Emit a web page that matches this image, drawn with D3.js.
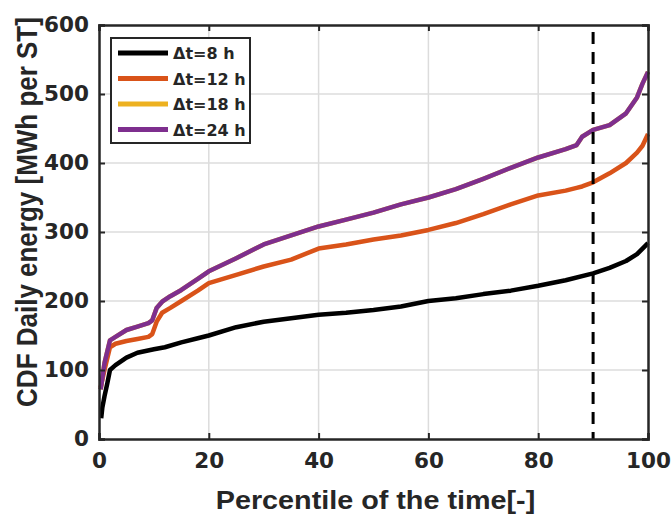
<!DOCTYPE html>
<html>
<head>
<meta charset="utf-8">
<script src="https://cdn.jsdelivr.net/npm/d3@7"></script>
<style>
  body { margin: 0; background: #fff; }
  svg { font-family: "DejaVu Sans", sans-serif; font-weight: bold; }
</style>
</head>
<body>
<div id="chart"></div>
<script>
// percentiles where the curves were read
const pct8 = [0.4, 0.6, 1, 1.5, 2, 3, 5, 7, 10, 12, 15, 18, 20, 25, 30, 35, 40, 45, 50, 55, 60, 65, 70, 75, 80, 85, 90, 93, 96, 98, 100];
const dt8 = [30, 45, 62, 80, 100, 107, 118, 125, 130, 133, 140, 146, 150, 162, 170, 175, 180, 183, 187, 192, 200, 204, 210, 215, 222, 230, 240, 248, 258, 268, 284];

const pctB = [0.3, 1, 2, 3, 5, 7, 9, 9.7, 10.5, 11.5, 13, 15, 18, 20, 25, 30, 35, 40, 45, 50, 55, 60, 65, 70, 75, 80, 85, 87, 88, 90, 93, 96, 98, 99, 100];
const dt12 = [75, 100, 133, 138, 142, 145, 148, 152, 170, 183, 190, 200, 215, 226, 238, 250, 260, 276, 282, 289, 295, 303, 313, 326, 340, 353, 360, 364, 366, 372, 385, 400, 415, 425, 442];
const dt24 = [72, 110, 143, 148, 158, 163, 168, 172, 190, 199, 207, 216, 232, 243, 262, 282, 295, 308, 318, 328, 340, 350, 362, 377, 393, 408, 420, 426, 438, 448, 455, 472, 495, 515, 532];
const dt18 = dt24; // hidden under the 24 h curve

const series = [
  { name: "\u0394t=8 h", color: "#000000", x: pct8, y: dt8 },
  { name: "\u0394t=12 h", color: "#D95319", x: pctB, y: dt12 },
  { name: "\u0394t=18 h", color: "#EDB120", x: pctB, y: dt18 },
  { name: "\u0394t=24 h", color: "#7E2F8E", x: pctB, y: dt24 }
];
const xTicks = [0, 20, 40, 60, 80, 100];
const yTicks = [0, 100, 200, 300, 400, 500, 600];
const marker = 90;

const width = 672, height = 517;
const margin = { top: 25, right: 24, bottom: 78, left: 99 };
const iw = width - margin.left - margin.right;
const ih = height - margin.top - margin.bottom;

const svg = d3.select("#chart").append("svg")
  .attr("width", width)
  .attr("height", height);

const g = svg.append("g").attr("transform", `translate(${margin.left},${margin.top})`);

const x = d3.scaleLinear().domain([0, 100]).range([0, iw]);
const y = d3.scaleLinear().domain([0, 600]).range([ih, 0]);

// grid
g.append("g").selectAll("line").data(xTicks.slice(1, -1)).join("line")
  .attr("x1", d => x(d)).attr("x2", d => x(d))
  .attr("y1", 0).attr("y2", ih)
  .attr("stroke", "#dcdcdc").attr("stroke-width", 1.5);
g.append("g").selectAll("line").data(yTicks.slice(1, -1)).join("line")
  .attr("y1", d => y(d)).attr("y2", d => y(d))
  .attr("x1", 0).attr("x2", iw)
  .attr("stroke", "#dcdcdc").attr("stroke-width", 1.5);

// curves, 18 h drawn first so 24 h covers it
const line = d3.line().x(d => x(d[0])).y(d => y(d[1]));
const order = [2, 1, 0, 3];
order.forEach(i => {
  const s = series[i];
  g.append("path")
    .datum(s.x.map((v, k) => [v, s.y[k]]))
    .attr("fill", "none")
    .attr("stroke", s.color)
    .attr("stroke-width", 4.5)
    .attr("stroke-linejoin", "round")
    .attr("d", line);
});

// dashed marker at 90th percentile
g.append("line")
  .attr("x1", x(marker)).attr("x2", x(marker))
  .attr("y1", y(590)).attr("y2", ih)
  .attr("stroke", "#000").attr("stroke-width", 3)
  .attr("stroke-dasharray", "12,8");

// axes
const axisColor = "#262626";
const xAxis = g.append("g").attr("transform", `translate(0,${ih})`)
  .call(d3.axisBottom(x).tickValues(xTicks).tickSize(-6).tickPadding(14));
const yAxis = g.append("g")
  .call(d3.axisLeft(y).tickValues(yTicks).tickSize(-6).tickPadding(10));
const xTop = g.append("g")
  .call(d3.axisTop(x).tickValues(xTicks).tickSize(-6).tickFormat(""));
const yRight = g.append("g").attr("transform", `translate(${iw},0)`)
  .call(d3.axisRight(y).tickValues(yTicks).tickSize(-6).tickFormat(""));

[xAxis, yAxis, xTop, yRight].forEach(a => {
  a.select(".domain").attr("stroke", axisColor).attr("stroke-width", 2.5);
  a.selectAll(".tick line").attr("stroke", axisColor).attr("stroke-width", 2);
  a.selectAll(".tick text")
    .attr("fill", axisColor)
    .style("font-size", "21.5px")
    .style("font-weight", "bold")
    .style("font-family", "'DejaVu Sans', sans-serif");
});

// axis labels
svg.append("text")
  .attr("transform", `translate(${margin.left + iw / 2 + 2},509) scale(1.15,1)`)
  .attr("text-anchor", "middle")
  .attr("fill", axisColor)
  .style("font-family", "'Liberation Sans', Arial, sans-serif")
  .style("font-size", "25px")
  .text("Percentile of the time[-]");

svg.append("text")
  .attr("transform", `translate(37,212) rotate(-90) scale(1,1.15)`)
  .attr("text-anchor", "middle")
  .attr("fill", axisColor)
  .style("font-family", "'Liberation Sans', Arial, sans-serif")
  .style("font-size", "26px")
  .text("CDF Daily energy [MWh per ST]");

// legend
const lg = svg.append("g").attr("transform", "translate(111,38)");
lg.append("rect")
  .attr("width", 139).attr("height", 105)
  .attr("fill", "#fff")
  .attr("stroke", axisColor).attr("stroke-width", 2);
series.forEach((s, i) => {
  const cy = 15 + i * 25.5;
  lg.append("line")
    .attr("x1", 7).attr("x2", 57)
    .attr("y1", cy).attr("y2", cy)
    .attr("stroke", s.color).attr("stroke-width", 5);
  lg.append("text")
    .attr("x", 62).attr("y", cy + 6)
    .attr("fill", axisColor)
    .style("font-size", "16px")
    .text(s.name);
});
</script>
</body>
</html>
